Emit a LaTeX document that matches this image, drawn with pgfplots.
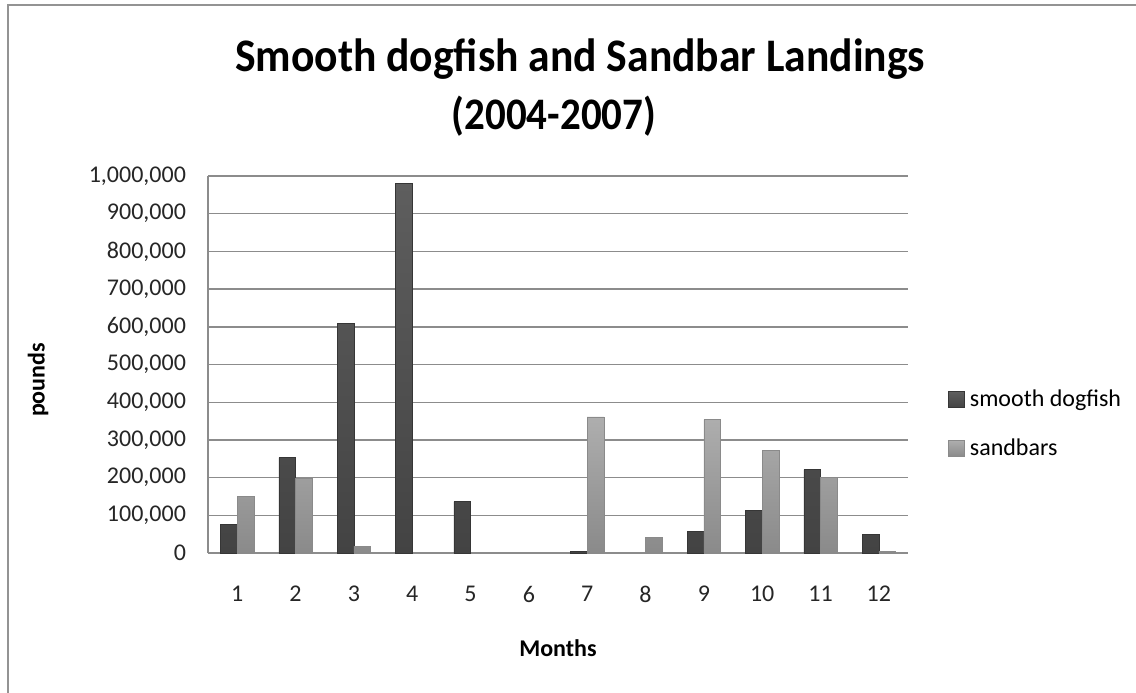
\documentclass[border=0pt]{standalone}
\usepackage{pgfplots}
\pgfplotsset{compat=1.18}
\usepackage{fontspec}
\setmainfont{Carlito}
\definecolor{darktop}{HTML}{5E5E5E}
\definecolor{darkbot}{HTML}{434343}
\definecolor{lighttop}{HTML}{AEAEAE}
\definecolor{lightbot}{HTML}{8A8A8A}
\definecolor{gridc}{HTML}{8C8C8C}
\begin{document}
\begin{tikzpicture}
\useasboundingbox (0,0) rectangle (568pt,346pt);
\fill[white] (0,0) rectangle (568pt,346pt);
\draw[gray!85, line width=0.9pt] (4pt,-2pt) -- (4pt,343.5pt) -- (570pt,343.5pt);
\node[font=\fontsize{21.8}{26}\selectfont\bfseries, anchor=base, yscale=1.07] at (290pt,310pt) {Smooth dogfish and Sandbar Landings};
\node[font=\fontsize{20.5}{24}\selectfont\bfseries, anchor=base, yscale=1.1] at (277pt,281pt) {(2004-2007)};
\node[font=\fontsize{12}{14}\selectfont\bfseries, rotate=90] at (19pt,156pt) {pounds};
\node[font=\fontsize{12}{14}\selectfont\bfseries] at (279pt,22pt) {Months};
\begin{axis}[
  at={(104pt,69.5pt)}, anchor=south west,
  width=350pt, height=188.5pt, scale only axis,
  xmin=0.5, xmax=12.5, ymin=0, ymax=1000000,
  xtick={1,...,12},
  ytick={0,100000,...,1000000},
  scaled y ticks=false,
  /pgf/number format/.cd, fixed, 1000 sep={,}, assume math mode=true,
  /pgfplots/.cd,
  ybar=0pt, bar width=8.35pt,
  axis x line*=bottom, axis y line*=left,
  axis line style={gridc, line width=0.7pt, -},
  major tick length=0pt,
  ymajorgrids, major grid style={gridc, line width=0.7pt},
  tick label style={font=\fontsize{12}{14}\selectfont, text=black!85},
  xticklabel style={yshift=-13pt},
  yticklabel style={xshift=-7.5pt},
  legend style={draw=none, fill=none, font=\fontsize{12}{14}\selectfont,
    at={(axis description cs:1.057,0.342)}, anchor=west,
    row sep=12.5pt, column sep=1.5pt, inner sep=0pt, legend cell align=left,
    nodes={inner sep=1pt}},
  legend image code/.code={\fill[#1] (0pt,-4pt) rectangle (8pt,4pt);},
]
\addplot[draw=darkbot!80!black, line width=0.3pt, top color=darktop, bottom color=darkbot] coordinates {
(1,75000) (2,253000) (3,609000) (4,980000) (5,136000) (7,4000) (9,58000) (10,112000) (11,221000) (12,49000)};
\addplot[draw=lightbot, line width=0.3pt, top color=lighttop, bottom color=lightbot] coordinates {
(1,150000) (2,198000) (3,18000) (7,361000) (8,41000) (9,354000) (10,273000) (11,200000) (12,4000)};
\legend{smooth dogfish, sandbars}
\end{axis}
\end{tikzpicture}
\end{document}
